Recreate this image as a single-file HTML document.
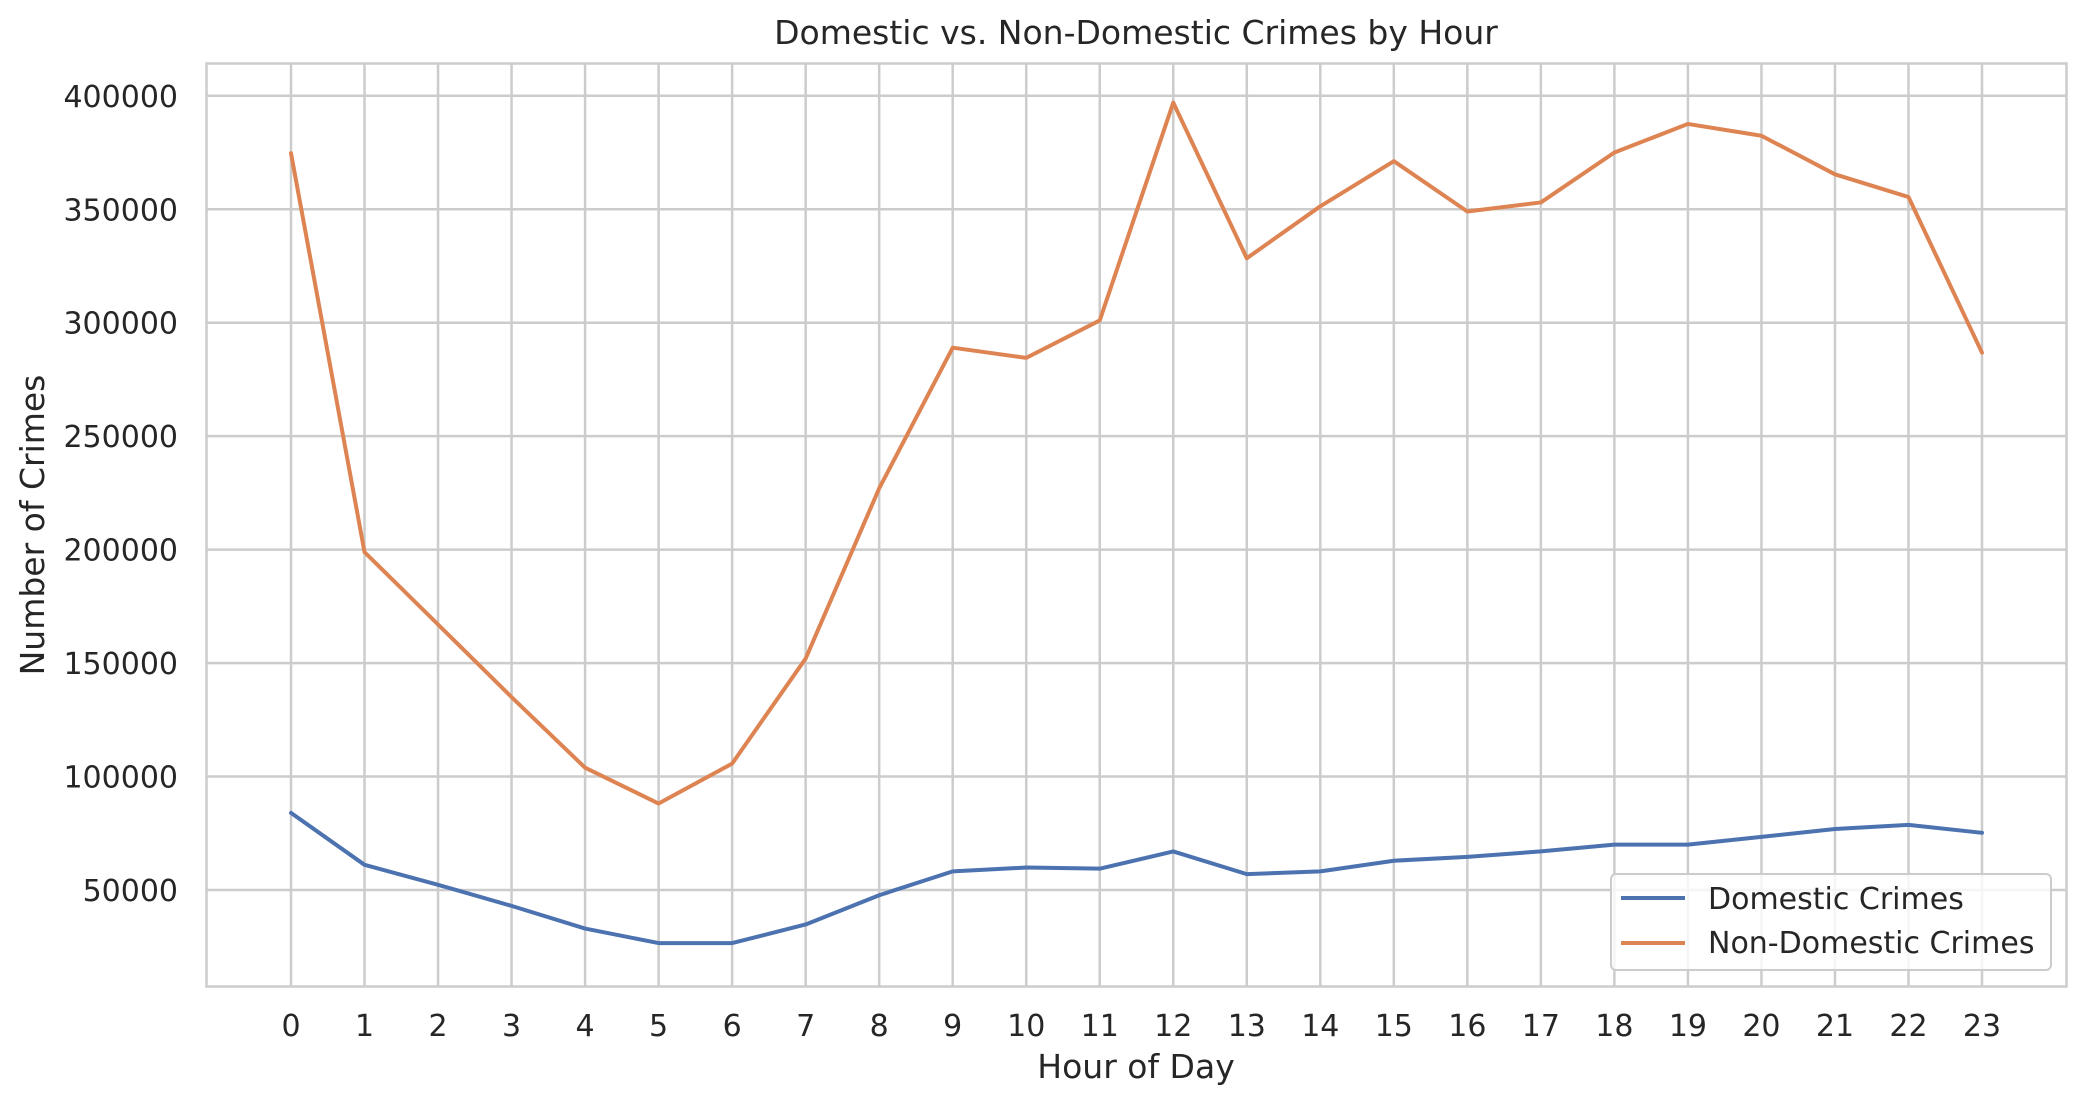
<!DOCTYPE html>
<html><head><meta charset="utf-8"><style>
html,body{margin:0;padding:0;background:#fff;}
svg{display:block;font-family:"DejaVu Sans","Liberation Sans",sans-serif;}
</style></head><body>
<svg id="chart" width="2086" height="1106" xmlns="http://www.w3.org/2000/svg">
<rect width="2086" height="1106" fill="#fff"/>
<g id="grid"></g>
<g id="lines"></g>
<g id="ticks"></g>
<rect x="206.5" y="63.5" width="1860" height="923" fill="none" stroke="#cccccc" stroke-width="2.5"/>
<text x="1136" y="44" text-anchor="middle" font-size="33" fill="#262626">Domestic vs. Non-Domestic Crimes by Hour</text>
<text x="1136" y="1078" text-anchor="middle" font-size="33" fill="#262626">Hour of Day</text>
<text transform="translate(44,525) rotate(-90)" text-anchor="middle" font-size="33" fill="#262626">Number of Crimes</text>
<g>
<rect x="1611" y="874" width="440" height="96" rx="5" fill="#fff" fill-opacity="0.8" stroke="#cccccc" stroke-width="2"/>
<line x1="1621" y1="898" x2="1685" y2="898" stroke="#4c72b0" stroke-width="4"/>
<text x="1708" y="909" font-size="30" fill="#262626">Domestic Crimes</text>
<line x1="1621" y1="943" x2="1685" y2="943" stroke="#dd8452" stroke-width="4"/>
<text x="1708" y="953" font-size="30" fill="#262626">Non-Domestic Crimes</text>
</g>
</svg>
<script>
const hours = [0,1,2,3,4,5,6,7,8,9,10,11,12,13,14,15,16,17,18,19,20,21,22,23];
const domestic = [84000,61100,52300,43000,33000,26600,26600,34800,47700,58200,59900,59400,67000,57000,58200,62900,64600,67000,70000,70000,73400,76900,78700,75200];
const nonDomestic = [374700,198900,167000,135000,103900,88100,105700,152000,227000,289000,284500,301000,397000,328400,351300,371200,349000,353000,375000,387600,382400,365400,355400,286800];
const yTicks = [50000,100000,150000,200000,250000,300000,350000,400000];

const NS = "http://www.w3.org/2000/svg";
function xS(h){ return 291 + h * (1982 - 291) / 23; }
function yS(v){ return 890 - (v - 50000) * (890 - 95.8) / 350000; }
function mk(tag, attrs, parent){
  const e = document.createElementNS(NS, tag);
  for (const k in attrs) e.setAttribute(k, attrs[k]);
  document.getElementById(parent).appendChild(e);
  return e;
}
hours.forEach(h => {
  const g = mk('line', {x1:xS(h), x2:xS(h), y1:64, y2:986, stroke:'#cccccc', 'stroke-width':2.5}, 'grid');
  
  
  const t = mk('text', {x:xS(h), y:1036, 'text-anchor':'middle', 'font-size':30, fill:'#262626'}, 'ticks');
  t.textContent = h;
  
  
});
yTicks.forEach(v => {
  const g = mk('line', {x1:207, x2:2066, y1:yS(v), y2:yS(v), stroke:'#cccccc', 'stroke-width':2.5}, 'grid');
  
  
  const t = mk('text', {x:178, y:yS(v)+11, 'text-anchor':'end', 'font-size':30, fill:'#262626'}, 'ticks');
  t.textContent = v;
  
  
});
function series(vals, color, name){
  const pts = vals.map((v,i) => xS(hours[i]) + ',' + yS(v)).join(' ');
  const p = mk('polyline', {points:pts, fill:'none', stroke:color, 'stroke-width':4, 'stroke-linejoin':'round', 'stroke-linecap':'round'}, 'lines');
  
  
}
series(domestic, '#4c72b0', 'domestic-crimes-line');
series(nonDomestic, '#dd8452', 'non-domestic-crimes-line');
</script>
</body></html>
